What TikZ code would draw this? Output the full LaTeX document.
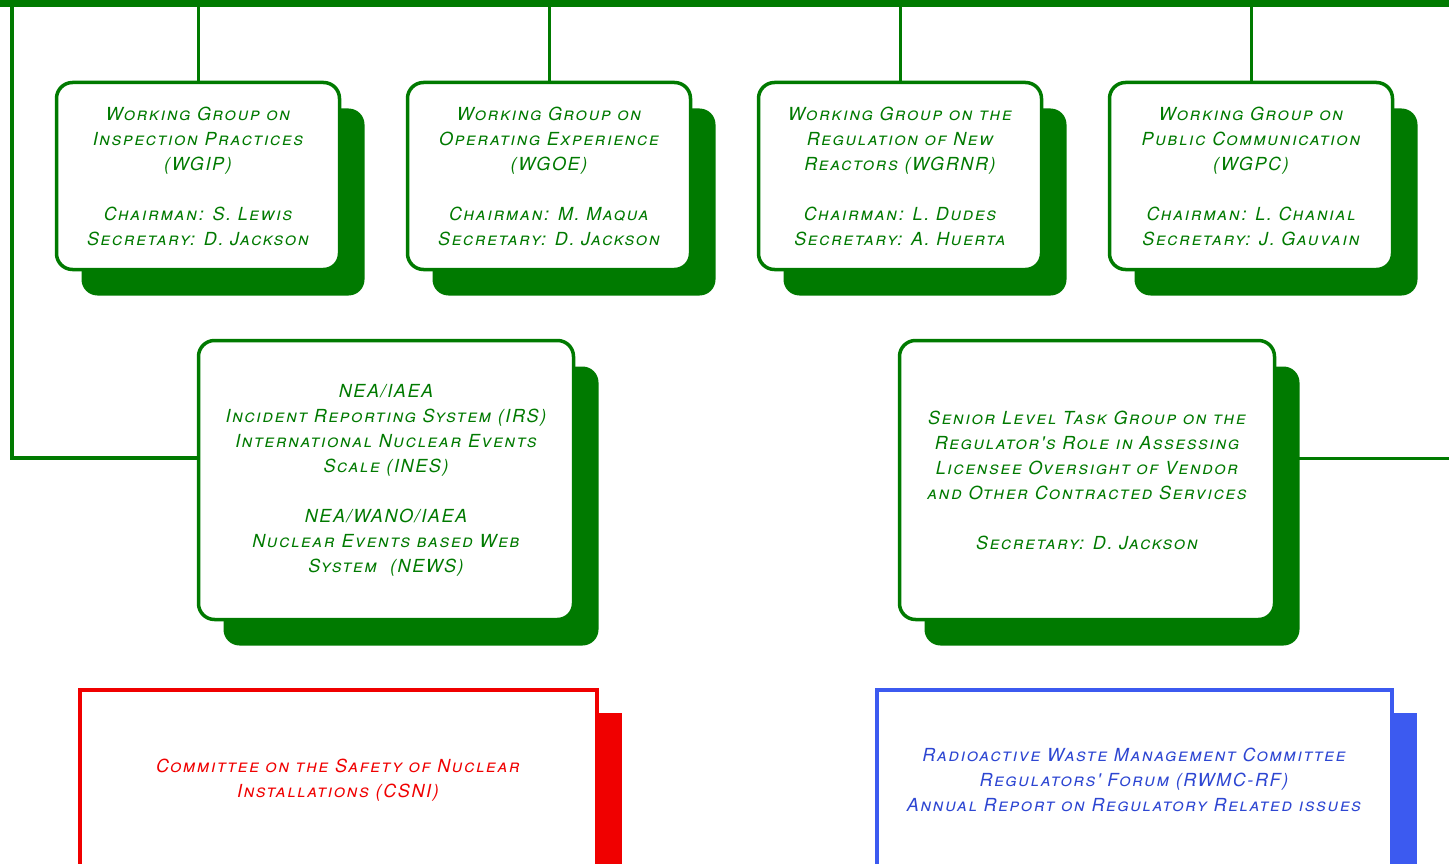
\documentclass[tikz,border=0pt]{standalone}
\usepackage{fontspec}
\newfontfamily\orgfont{TeX Gyre Heros}[Letters=SmallCaps,LetterSpace=9]
\usetikzlibrary{shadows,backgrounds}
\definecolor{wggreen}{RGB}{0,122,0}
\definecolor{csnired}{RGB}{240,0,0}
\definecolor{rwmcblue}{RGB}{60,90,240}
\definecolor{rwmctext}{RGB}{45,70,210}

\begin{document}
\begin{tikzpicture}[x=1pt,y=-1pt,
    wgbox/.style={draw=wggreen, line width=3.5pt, rounded corners=16pt, fill=white,
      text=wggreen, align=center, inner sep=0pt,
      font=\orgfont\itshape\fontsize{18}{25}\selectfont,
      drop shadow={shadow xshift=25pt, shadow yshift=-26pt, fill=wggreen, opacity=1}},
    topbox/.style={wgbox, minimum width=283pt, minimum height=187pt},
    midbox/.style={wgbox, minimum width=375pt, minimum height=279pt},
    combox/.style={draw=#1, line width=4pt, fill=white, align=center, inner sep=0pt,
      minimum width=517pt, minimum height=180pt,
      font=\orgfont\itshape\fontsize{18}{25}\selectfont,
      drop shadow={shadow xshift=25pt, shadow yshift=-23pt, fill=#1, opacity=1}},
    link/.style={draw=wggreen, line width=3pt}]
    \useasboundingbox (0,0) rectangle (1449,864);
    \clip (0,0) rectangle (1449,864);
    % working groups
    \node[topbox] (wgip) at (198,176) {Working Group on\\Inspection Practices\\(WGIP)\\[25pt]Chairman: S. Lewis\\Secretary: D. Jackson};
    \node[topbox] (wgoe) at (549,176) {Working Group on\\Operating Experience\\(WGOE)\\[25pt]Chairman: M. Maqua\\Secretary: D. Jackson};
    \node[topbox] (wgrnr) at (900,176) {Working Group on the\\Regulation of New\\Reactors (WGRNR)\\[25pt]Chairman: L. Dudes\\Secretary: A. Huerta};
    \node[topbox] (wgpc) at (1251,176) {Working Group on\\Public Communication\\(WGPC)\\[25pt]Chairman: L. Chanial\\Secretary: J. Gauvain};
    % joint systems and task group
    \node[midbox] (irs) at (386,480) {NEA/IAEA\\Incident Reporting System (IRS)\\International Nuclear Events\\Scale (INES)\\[25pt]NEA/WANO/IAEA\\Nuclear Events based Web\\System \ (NEWS)};
    \node[midbox] (sltg) at (1087,480) {Senior Level Task Group on the\\Regulator's Role in Assessing\\Licensee Oversight of Vendor\\and Other Contracted Services\\[25pt]Secretary: D. Jackson};
    % committees
    \node[combox=csnired, text=csnired] (csni) at (338,780) {Committee on the Safety of Nuclear\\Installations (CSNI)};
    \node[combox=rwmcblue, text=rwmctext, minimum width=515pt] (rwmc) at (1134,780) {Radioactive Waste Management Committee\\Regulators' Forum (RWMC-RF)\\Annual Report on Regulatory Related issues};
    % connectors
    \coordinate (barl) at (0,3.5);
    \coordinate (barr) at (1449,3.5);
    \coordinate (lt) at (12,3.5);
    \coordinate (lj) at (12,458);
    \coordinate (rj) at (1449,458);
    \begin{scope}[on background layer]
        \draw[link, line width=7pt] (barl) -- (barr);
        \foreach \g in {wgip,wgoe,wgrnr,wgpc}
            \draw[link] (\g.north) -- (\g.north |- barl);
        \draw[link, line width=4pt] (lt) -- (lj) -- (lj -| irs.west);
        \draw[link] (rj -| sltg.east) -- (rj);
    \end{scope}
\end{tikzpicture}
\end{document}
